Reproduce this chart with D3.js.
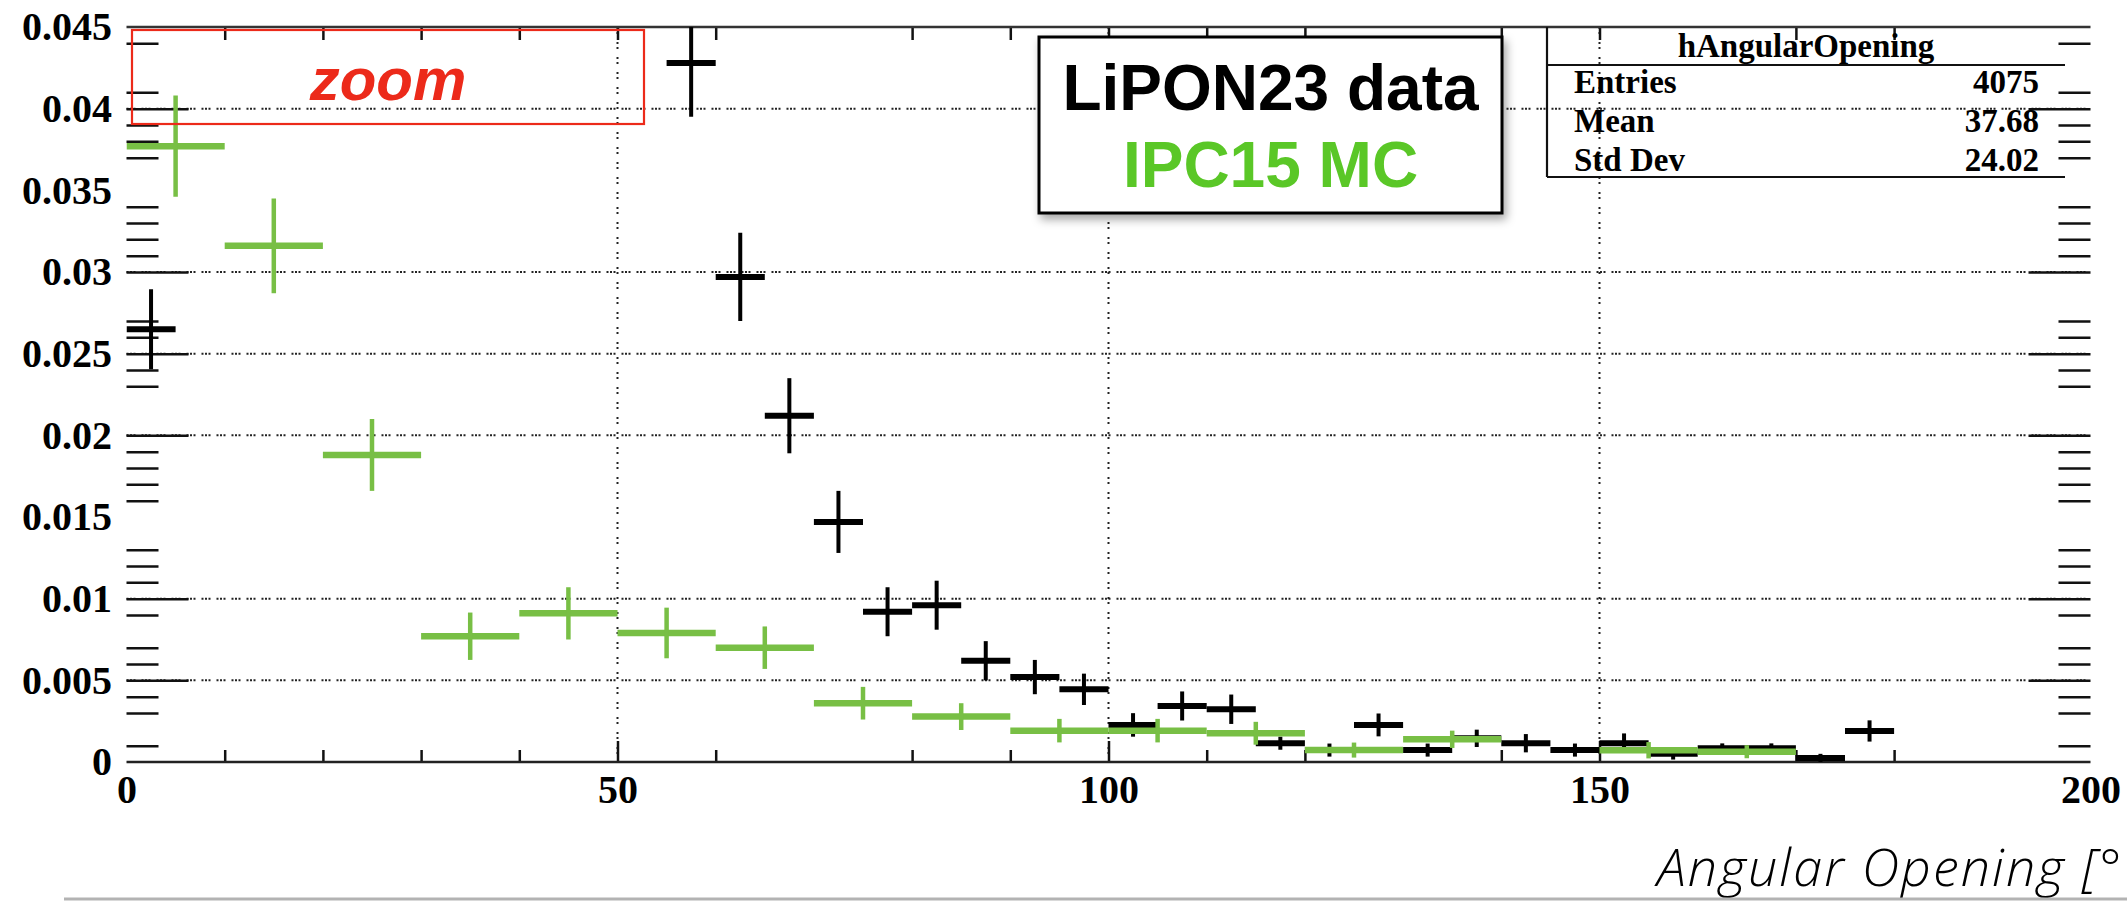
<!DOCTYPE html>
<html>
<head>
<meta charset="utf-8">
<script src="https://cdn.jsdelivr.net/npm/d3@7"></script>
<style>
  html, body { margin: 0; padding: 0; background: #fff; overflow: hidden; }
  svg { display: block; }
</style>
</head>
<body>
<svg id="chart" width="2127" height="901"></svg>
<script>
// LiPON23 data histogram, 5-degree bins (bins above the y range are not listed)
const dataCenters = [2.5, 57.5, 62.5, 67.5, 72.5, 77.5, 82.5, 87.5, 92.5, 97.5,
  102.5, 107.5, 112.5, 117.5, 122.5, 127.5, 132.5, 137.5, 142.5, 147.5,
  152.5, 157.5, 162.5, 167.5, 172.5, 177.5];
const dataValues = [0.0265, 0.0428, 0.0297, 0.0212, 0.0147, 0.0092, 0.0096, 0.0062, 0.0052, 0.00445,
  0.00227, 0.00343, 0.00323, 0.00115, 0.00073, 0.00227, 0.00073, 0.00145, 0.00115, 0.00073,
  0.00115, 0.0005, 0.00084, 0.00084, 0.00025, 0.0019];
const dataErrors = [0.00245, 0.0033, 0.0027, 0.0023, 0.0019, 0.0015, 0.0015, 0.0012, 0.00105, 0.00096,
  0.00072, 0.00089, 0.0009, 0.0004, 0.0004, 0.0007, 0.0004, 0.00053, 0.00056, 0.0004,
  0.0006, 0.00035, 0.0003, 0.0003, 0.00025, 0.00065];

// IPC15 MC histogram, 10-degree bins (empty bins are not listed)
const mcCenters = [5, 15, 25, 35, 45, 55, 65, 75, 85, 95, 105, 115, 125, 135, 155, 165];
const mcValues = [0.0377, 0.0316, 0.0188, 0.0077, 0.0091, 0.0079, 0.0070, 0.0036, 0.00278, 0.00192,
  0.00192, 0.00176, 0.00073, 0.00139, 0.00072, 0.00063];
const mcErrors = [0.0031, 0.0029, 0.0022, 0.00145, 0.0016, 0.00155, 0.0013, 0.001, 0.00082, 0.00072,
  0.00072, 0.0007, 0.00046, 0.00053, 0.0005, 0.0004];

const dataBinWidth = 5;
const mcBinWidth = 10;

// Axis ticks and labels
const xLabelValues = [0, 50, 100, 150, 200];
const xMinorTicks = [10, 20, 30, 40, 60, 80, 90, 110, 120, 140, 170, 180];
const xMajorTicks = [50, 100, 150];
const yLabelValues = [0, 0.005, 0.01, 0.015, 0.02, 0.025, 0.03, 0.035, 0.04, 0.045];
const yMajorTicks = [0.005, 0.01, 0.02, 0.025, 0.03, 0.04];
const yMinorTicks = [0.001, 0.003, 0.004, 0.006, 0.007, 0.009, 0.011, 0.012, 0.013,
  0.016, 0.017, 0.018, 0.019, 0.023, 0.024, 0.026, 0.027, 0.031, 0.032, 0.033, 0.034,
  0.037, 0.038, 0.039, 0.041, 0.044];
const xGridValues = [50, 100, 150];
const yGridValues = [0.005, 0.01, 0.02, 0.025, 0.03, 0.04];

// Stats box and legend text
const statsTitle = "hAngularOpening";
const statsNames = ["Entries", "Mean", "Std Dev"];
const statsNumbers = ["4075", "37.68", "24.02"];
const legendLabels = ["LiPON23 data", "IPC15 MC"];
const xTitle = "Angular Opening [°";

const svg = d3.select("#chart");

const x = d3.scaleLinear().domain([0, 200]).range([126.5, 2090.5]);
const y = d3.scaleLinear().domain([0, 0.045]).range([762, 27]);

const serif = "'Liberation Serif', 'Times New Roman', serif";
const sans = "'Liberation Sans', Arial, Helvetica, sans-serif";
const red = "#ec2a1a";
const dataGreen = "#78bf45";
const textGreen = "#5ac727";

const defs = svg.append("defs");
defs.append("clipPath").attr("id", "plotClip")
  .append("rect")
  .attr("x", x(0)).attr("y", y(0.045))
  .attr("width", x(200) - x(0)).attr("height", y(0) - y(0.045));
const shadow = defs.append("filter").attr("id", "boxShadow")
  .attr("x", "-10%").attr("y", "-10%").attr("width", "130%").attr("height", "140%");
shadow.append("feDropShadow")
  .attr("dx", 3).attr("dy", 5).attr("stdDeviation", 5)
  .attr("flood-color", "#000").attr("flood-opacity", 0.35);

// Dotted grid
const grid = svg.append("g").attr("stroke", "#222").attr("stroke-width", 2).attr("fill", "none");
grid.selectAll("line.gy").data(yGridValues).join("line")
  .attr("class", "gy")
  .attr("x1", x(0)).attr("x2", x(200))
  .attr("y1", d => y(d)).attr("y2", d => y(d))
  .attr("stroke-dasharray", "2,1.5,2,1.5,2,6");
grid.selectAll("line.gx").data(xGridValues).join("line")
  .attr("class", "gx")
  .attr("x1", d => x(d)).attr("x2", d => x(d))
  .attr("y1", y(0.045)).attr("y2", y(0))
  .attr("stroke-dasharray", "2,3,2,8");

// Tick marks drawn with d3 axes
function styleTicks(g) {
  g.select(".domain").remove();
  g.selectAll(".tick line").attr("stroke", "#111").attr("stroke-width", 2.5);
  g.selectAll(".tick text").remove();
}
svg.append("g").attr("transform", `translate(${x(0)},0)`)
  .call(d3.axisRight(y).tickValues(yMinorTicks).tickSize(32)).call(styleTicks);
svg.append("g").attr("transform", `translate(${x(0)},0)`)
  .call(d3.axisRight(y).tickValues(yMajorTicks).tickSize(62)).call(styleTicks);
svg.append("g").attr("transform", `translate(${x(200)},0)`)
  .call(d3.axisLeft(y).tickValues(yMinorTicks).tickSize(32)).call(styleTicks);
svg.append("g").attr("transform", `translate(${x(200)},0)`)
  .call(d3.axisLeft(y).tickValues(yMajorTicks).tickSize(62)).call(styleTicks);
svg.append("g").attr("transform", `translate(0,${y(0)})`)
  .call(d3.axisTop(x).tickValues(xMinorTicks).tickSize(12)).call(styleTicks);
svg.append("g").attr("transform", `translate(0,${y(0)})`)
  .call(d3.axisTop(x).tickValues(xMajorTicks).tickSize(21)).call(styleTicks);
svg.append("g").attr("transform", `translate(0,${y(0.045)})`)
  .call(d3.axisBottom(x).tickValues(xMinorTicks.concat(xMajorTicks)).tickSize(13)).call(styleTicks);

// Frame lines (top edge and x axis)
svg.append("line").attr("x1", x(0)).attr("x2", x(200))
  .attr("y1", y(0.045)).attr("y2", y(0.045))
  .attr("stroke", "#333").attr("stroke-width", 2.5);
svg.append("line").attr("x1", x(0)).attr("x2", x(200))
  .attr("y1", y(0)).attr("y2", y(0))
  .attr("stroke", "#222").attr("stroke-width", 2.5);

// Axis labels
function styleLabels(g) {
  g.select(".domain").remove();
  g.selectAll(".tick line").remove();
  g.selectAll(".tick text")
    .attr("fill", "#000")
    .style("font-family", serif).style("font-weight", "bold").style("font-size", "40px");
}
svg.append("g").attr("transform", `translate(${x(0)},0)`)
  .call(d3.axisLeft(y).tickValues(yLabelValues).tickSize(0).tickPadding(14.5)
    .tickFormat(d => String(+d.toFixed(3))))
  .call(styleLabels);
svg.append("g").attr("transform", `translate(0,${y(0)})`)
  .call(d3.axisBottom(x).tickValues(xLabelValues).tickSize(0).tickPadding(12.5)
    .tickFormat(d3.format("d")))
  .call(styleLabels);

// Error-bar crosses
const plot = svg.append("g").attr("clip-path", "url(#plotClip)");

function drawHist(cls, centers, values, errors, binWidth, color, hWidth, vWidth) {
  const pts = centers.map((c, i) => ({ c, v: values[i], e: errors[i] }));
  const g = plot.append("g").attr("class", cls).attr("stroke", color).attr("fill", "none");
  g.selectAll("line.h").data(pts).join("line")
    .attr("class", "h")
    .attr("x1", d => x(d.c - binWidth / 2)).attr("x2", d => x(d.c + binWidth / 2))
    .attr("y1", d => y(d.v)).attr("y2", d => y(d.v))
    .attr("stroke-width", hWidth);
  g.selectAll("line.v").data(pts).join("line")
    .attr("class", "v")
    .attr("x1", d => x(d.c)).attr("x2", d => x(d.c))
    .attr("y1", d => y(Math.max(0, d.v - d.e))).attr("y2", d => y(d.v + d.e))
    .attr("stroke-width", vWidth);
}
drawHist("data", dataCenters, dataValues, dataErrors, dataBinWidth, "#000", 6, 4);
drawHist("mc", mcCenters, mcValues, mcErrors, mcBinWidth, dataGreen, 6.5, 4.5);

// Stats box (transparent, lines only)
const sx0 = 1547, sx1 = 2065, sTop = y(0.045), sSep = 65, sBot = 177;
const stats = svg.append("g");
stats.append("line").attr("x1", sx0).attr("x2", sx0).attr("y1", sTop).attr("y2", sBot)
  .attr("stroke", "#111").attr("stroke-width", 2.2);
stats.append("line").attr("x1", sx0).attr("x2", sx1).attr("y1", sSep).attr("y2", sSep)
  .attr("stroke", "#111").attr("stroke-width", 2.2);
stats.append("line").attr("x1", sx0).attr("x2", sx1).attr("y1", sBot).attr("y2", sBot)
  .attr("stroke", "#111").attr("stroke-width", 2.2);
stats.append("text").attr("x", (sx0 + sx1) / 2).attr("y", 57)
  .attr("text-anchor", "middle")
  .style("font-family", serif).style("font-weight", "bold").style("font-size", "33px")
  .text(statsTitle);
const rowBase = [93, 132, 170.5];
stats.selectAll("text.sn").data(statsNames).join("text")
  .attr("class", "sn").attr("x", 1574).attr("y", (d, i) => rowBase[i])
  .style("font-family", serif).style("font-weight", "bold").style("font-size", "33px")
  .text(d => d);
stats.selectAll("text.sv").data(statsNumbers).join("text")
  .attr("class", "sv").attr("x", 2039).attr("y", (d, i) => rowBase[i])
  .attr("text-anchor", "end")
  .style("font-family", serif).style("font-weight", "bold").style("font-size", "33px")
  .text(d => d);

// Legend box
const leg = svg.append("g");
leg.append("rect").attr("x", 1039).attr("y", 37).attr("width", 463).attr("height", 176)
  .attr("fill", "#fff").attr("stroke", "#000").attr("stroke-width", 3)
  .attr("filter", "url(#boxShadow)");
leg.selectAll("text").data(legendLabels).join("text")
  .attr("x", 1270.5).attr("y", (d, i) => i === 0 ? 110 : 187)
  .attr("text-anchor", "middle")
  .attr("fill", (d, i) => i === 0 ? "#000" : textGreen)
  .style("font-family", sans).style("font-weight", "bold").style("font-size", "64px")
  .text(d => d);

// "zoom" annotation
svg.append("rect").attr("x", 132).attr("y", 30).attr("width", 512).attr("height", 94)
  .attr("fill", "none").attr("stroke", red).attr("stroke-width", 2.2);
svg.append("text").attr("x", 388).attr("y", 100).attr("text-anchor", "middle")
  .attr("fill", red)
  .style("font-family", sans).style("font-weight", "bold").style("font-style", "italic")
  .style("font-size", "60px")
  .text("zoom");

// Axis title and slide rule
svg.append("text").attr("x", 1657).attr("y", 886)
  .attr("fill", "#000")
  .style("font-family", "'Open Sans', 'Noto Sans', sans-serif")
  .style("font-style", "italic").style("font-weight", 300).style("font-size", "52px")
  .style("letter-spacing", "2.1px")
  .text(xTitle);
svg.append("line").attr("x1", 64).attr("x2", 2127).attr("y1", 899).attr("y2", 899)
  .attr("stroke", "#b3b3b3").attr("stroke-width", 3);
</script>
</body>
</html>
